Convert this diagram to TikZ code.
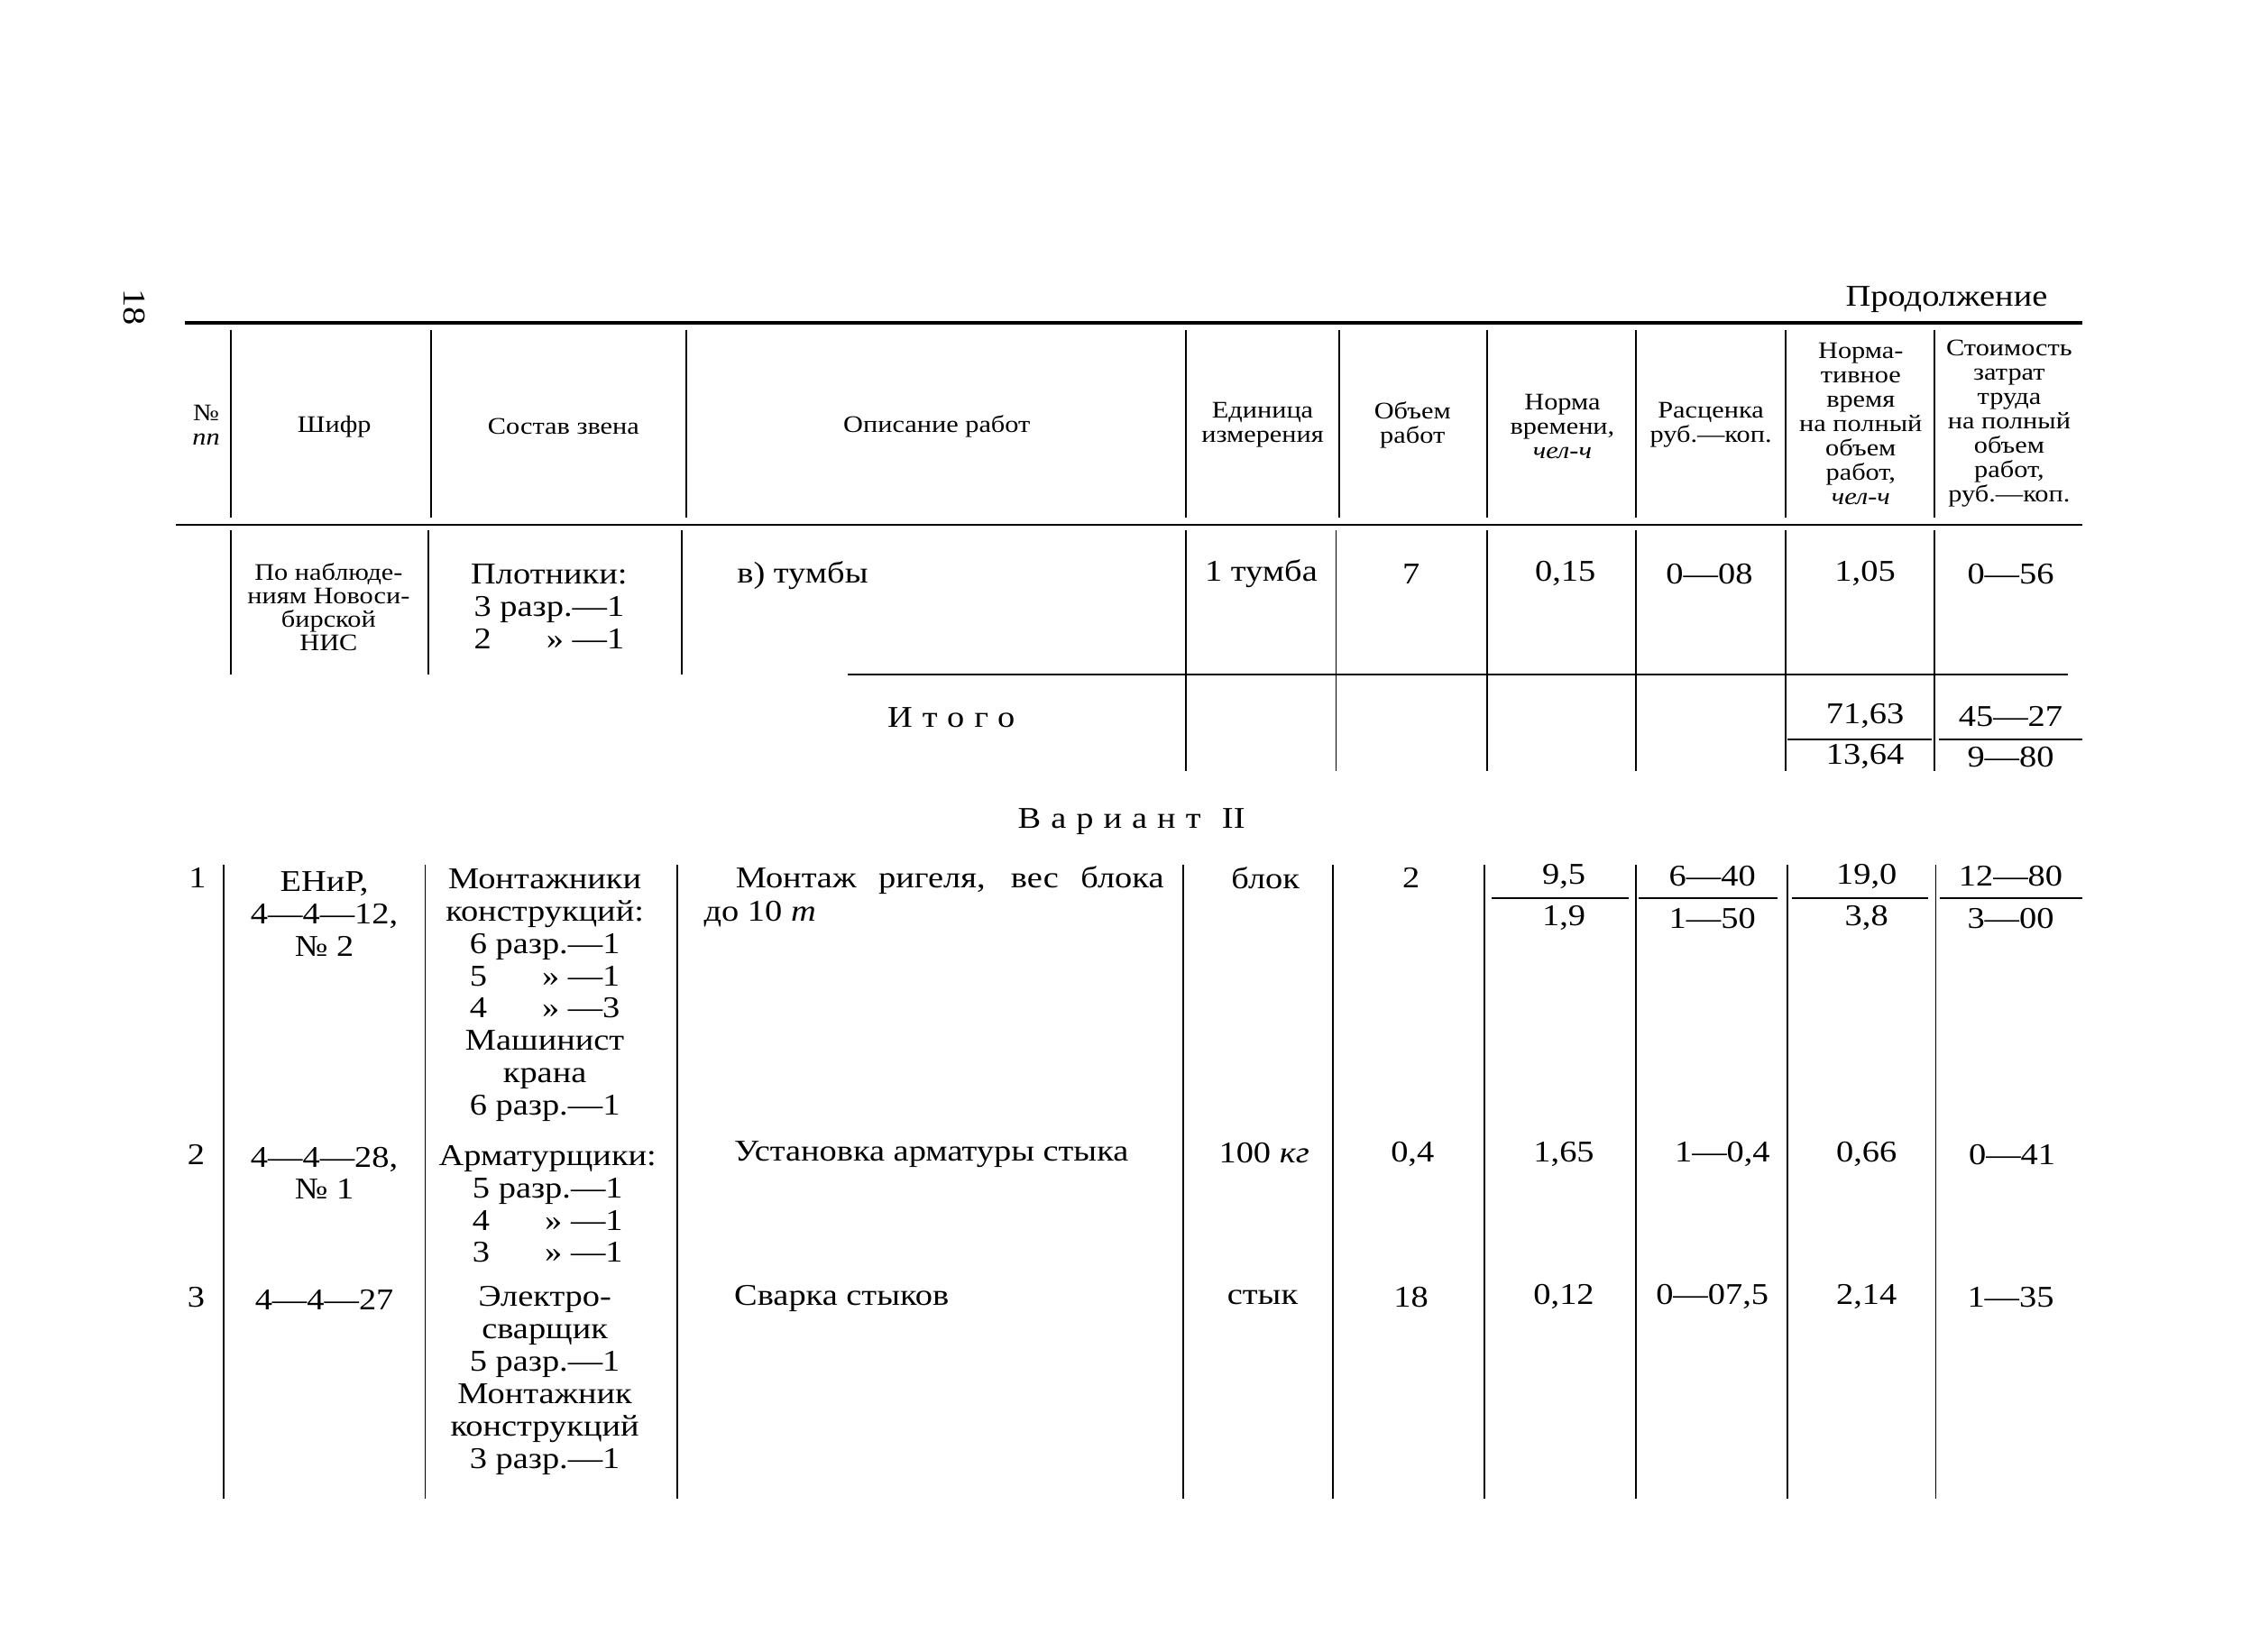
\documentclass[tikz,border=0pt]{standalone}
\usepackage{fontspec}
\setmainfont{Liberation Serif}[FakeStretch=1.15]
\newfontfamily\spaced{Liberation Serif}[FakeStretch=1.15,LetterSpace=33]
\newcommand\grd[2]{\setbox0\hbox{6 разр.—1}\hbox to\wd0{#1\hfill #2}}
\begin{document}
\begin{tikzpicture}[x=0.01598cm,y=-0.01598cm,
  rule/.style={line width=0.6pt},
  toprule/.style={line width=1.1pt},
  vline/.style={line width=0.5pt},
  txt/.style={inner sep=0pt, font=\fontsize{9.5}{10.2}\selectfont, align=center},
  hdr/.style={inner sep=0pt, font=\fontsize{7.5}{7.7}\selectfont, align=center},
  sml/.style={inner sep=0pt, font=\fontsize{7.5}{7.4}\selectfont, align=center},
]
\useasboundingbox (0,0) rectangle (1568,1146);
% page number and caption
\node[txt, font=\fontsize{10}{12}\selectfont, rotate=-90] (pg) at (93,213) {18};
\node[txt, anchor=east] (cont) at (1421,208) {Продолжение};
% header rules
\draw[toprule] (128,224) -- (1445,224);
\draw[rule] (122,364) -- (1445,364);
\foreach \x in {160,299,476,823,929,1032,1135,1239,1342}
  \draw[vline] (\x,229) -- (\x,359);
% header texts
\node[hdr] (h1) at (143,295) {№\\\textit{пп}};
\node[hdr] (h2) at (232,296) {Шифр};
\node[hdr] (h3) at (391,296) {Состав звена};
\node[hdr] (h4) at (650,296) {Описание работ};
\node[hdr] (h5) at (876,295) {Единица\\измерения};
\node[hdr] (h6) at (980,295) {Объем\\работ};
\node[hdr] (h7) at (1084,296) {Норма\\времени,\\\textit{чел-ч}};
\node[hdr] (h8) at (1187,295) {Расценка\\руб.—коп.};
\node[hdr] (h9) at (1291,294) {Норма-\\тивное\\время\\на полный\\объем\\работ,\\\textit{чел-ч}};
\node[hdr] (h10) at (1394,294) {Стоимость\\затрат\\труда\\на полный\\объем\\работ,\\руб.—коп.};
% continuation row
\foreach \x in {160,297,473}
  \draw[vline] (\x,368) -- (\x,468);
\foreach \x in {823,927,1032,1135,1239,1342}
  \draw[vline] (\x,368) -- (\x,535);
\draw[rule] (588,468) -- (1435,468);
\node[sml] (c2) at (228,421) {По наблюде-\\ниям Новоси-\\бирской\\НИС};
\node[txt] (c3) at (381,421) {Плотники:\\3 разр.—1\\\grd{2}{» —1}};
\node[txt, anchor=west] (c4) at (511,399) {в)\ тумбы};
\node[txt] (c5) at (875,398) {1 тумба};
\node[txt] (c6) at (979,398) {7};
\node[txt] (c7) at (1086,398) {0,15};
\node[txt] (c8) at (1186,398) {0—08};
\node[txt] (c9) at (1294,398) {1,05};
\node[txt] (c10) at (1395,398) {0—56};
% total
\node[txt, font=\spaced\fontsize{9.5}{10.2}\selectfont] (itogo) at (660,498) {Итого};
\node[txt] (t9a) at (1294,497) {71,63};
\node[txt] (t9b) at (1294,525) {13,64};
\node[txt] (t10a) at (1395,497) {45—27};
\node[txt] (t10b) at (1395,525) {9—80};
\draw[rule] (1240,513) -- (1340,513);
\draw[rule] (1345,513) -- (1445,513);
% variant II
\node[txt, font=\fontsize{9.5}{10.2}\selectfont] (var) at (785,570) {{\spaced Вариант}\hspace{0.7em}II};
\foreach \x in {155,295,470,821,925,1030,1135,1240,1343}
  \draw[vline] (\x,600) -- (\x,1040);
% row 1
\node[txt] (r1n) at (137,609) {1};
\node[txt] (r1a) at (225,634) {ЕНиР,\\4—4—12,\\№ 2};
\node[txt] (r1b) at (378,690.5) {Монтажники\\конструкций:\\6 разр.—1\\\grd{5}{» —1}\\\grd{4}{» —3}\\Машинист\\крана\\6 разр.—1};
\node[txt, anchor=west] (r1c) at (510,611) {\makebox[4.746cm][s]{Монтаж ригеля, вес блока}};
\node[txt, anchor=west] (r1c2) at (488,634) {до 10 \textit{т}};
\node[txt] (r1d) at (878,609) {блок};
\node[txt] (r1e) at (979,609) {2};
\node[txt] (r1f) at (1085,608) {9,5};
\node[txt] (r1f2) at (1085,637) {1,9};
\node[txt] (r1g) at (1188,608) {6—40};
\node[txt] (r1g2) at (1188,637) {1—50};
\node[txt] (r1h) at (1295,608) {19,0};
\node[txt] (r1h2) at (1295,637) {3,8};
\node[txt] (r1i) at (1395,608) {12—80};
\node[txt] (r1i2) at (1395,637) {3—00};
\draw[rule] (1035,623) -- (1130,623);
\draw[rule] (1137,623) -- (1233,623);
\draw[rule] (1243,623) -- (1338,623);
\draw[rule] (1346,623) -- (1445,623);
% row 2
\node[txt] (r2n) at (136,801) {2};
\node[txt] (r2a) at (225,814) {4—4—28,\\№ 1};
\node[txt] (r2b) at (380,835.5) {Арматурщики:\\5 разр.—1\\\grd{4}{» —1}\\\grd{3}{» —1}};
\node[txt, anchor=west] (r2c) at (509,801) {Установка арматуры стыка};
\node[txt] (r2d) at (877,800) {100 \textit{кг}};
\node[txt] (r2e) at (980,801) {0,4};
\node[txt] (r2f) at (1085,801) {1,65};
\node[txt] (r2g) at (1195,801) {1—0,4};
\node[txt] (r2h) at (1295,801) {0,66};
\node[txt] (r2i) at (1396,801) {0—41};
% row 3
\node[txt] (r3n) at (136,900) {3};
\node[txt] (r3a) at (225,902) {4—4—27};
\node[txt] (r3b) at (378,958) {Электро-\\сварщик\\5 разр.—1\\Монтажник\\конструкций\\3 разр.—1};
\node[txt, anchor=west] (r3c) at (509,901) {Сварка стыков};
\node[txt] (r3d) at (876,900) {стык};
\node[txt] (r3e) at (979,900) {18};
\node[txt] (r3f) at (1085,900) {0,12};
\node[txt] (r3g) at (1188,900) {0—07,5};
\node[txt] (r3h) at (1295,900) {2,14};
\node[txt] (r3i) at (1395,900) {1—35};
\end{tikzpicture}
\end{document}
